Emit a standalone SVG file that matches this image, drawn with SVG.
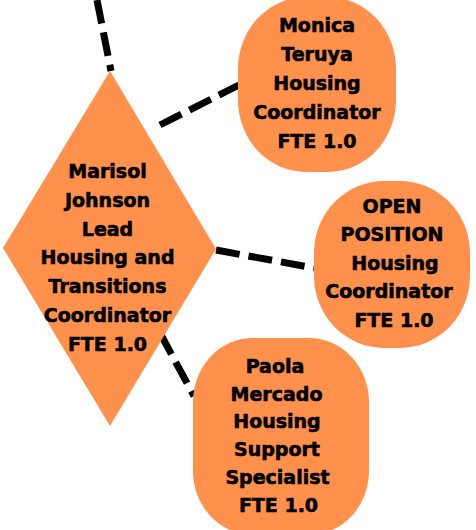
<svg xmlns="http://www.w3.org/2000/svg" width="476" height="530" viewBox="0 0 476 530">
<style>
.shape{fill:#FF914D;}
.t{font-family:"DejaVu Sans",sans-serif;font-weight:bold;font-size:19px;fill:#000;stroke:#000;stroke-width:0.6;text-anchor:middle;}
.c{fill:none;stroke:#000;stroke-width:7;stroke-dasharray:24 9;}
</style>
<rect width="476" height="530" fill="#fff"/>
<g id="connectors">
<line class="c" x1="97" y1="0" x2="111" y2="71"/>
<line class="c" x1="160" y1="125" x2="239" y2="85"/>
<line class="c" x1="216" y1="250" x2="314" y2="268"/>
<line class="c" x1="160" y1="333" x2="194" y2="396"/>
</g>
<g id="marisol">
<polygon class="shape" points="110,71 216,249 110,426 3,248"/>
<text class="t" x="107.5" y="178">Marisol</text>
<text class="t" x="107.5" y="206.8">Johnson</text>
<text class="t" x="107.5" y="235.6">Lead</text>
<text class="t" x="107.5" y="264.4">Housing and</text>
<text class="t" x="107.5" y="293.2">Transitions</text>
<text class="t" x="107.5" y="322">Coordinator</text>
<text class="t" x="107.5" y="350.8">FTE 1.0</text>
</g>
<g id="monica">
<rect class="shape" x="238" y="-3" width="158" height="175" rx="68" ry="72"/>
<text class="t" x="317" y="31.5">Monica</text>
<text class="t" x="317" y="60.6">Teruya</text>
<text class="t" x="317" y="89.7">Housing</text>
<text class="t" x="317" y="118.8">Coordinator</text>
<text class="t" x="317" y="148">FTE 1.0</text>
</g>
<g id="open">
<rect class="shape" x="314" y="181" width="156" height="167" rx="70" ry="72"/>
<text class="t" x="392" y="212.5">OPEN</text>
<text class="t" x="392" y="241">POSITION</text>
<text class="t" x="395" y="269.6">Housing</text>
<text class="t" x="389" y="298.2">Coordinator</text>
<text class="t" x="394" y="326.7">FTE 1.0</text>
</g>
<g id="paola">
<rect class="shape" x="193" y="338" width="176" height="197" rx="60" ry="64"/>
<text class="t" x="275" y="373">Paola</text>
<text class="t" x="276.5" y="400.7">Mercado</text>
<text class="t" x="277" y="428.4">Housing</text>
<text class="t" x="277" y="456.1">Support</text>
<text class="t" x="277.5" y="483.8">Specialist</text>
<text class="t" x="278.5" y="511.5">FTE 1.0</text>
</g>
</svg>
